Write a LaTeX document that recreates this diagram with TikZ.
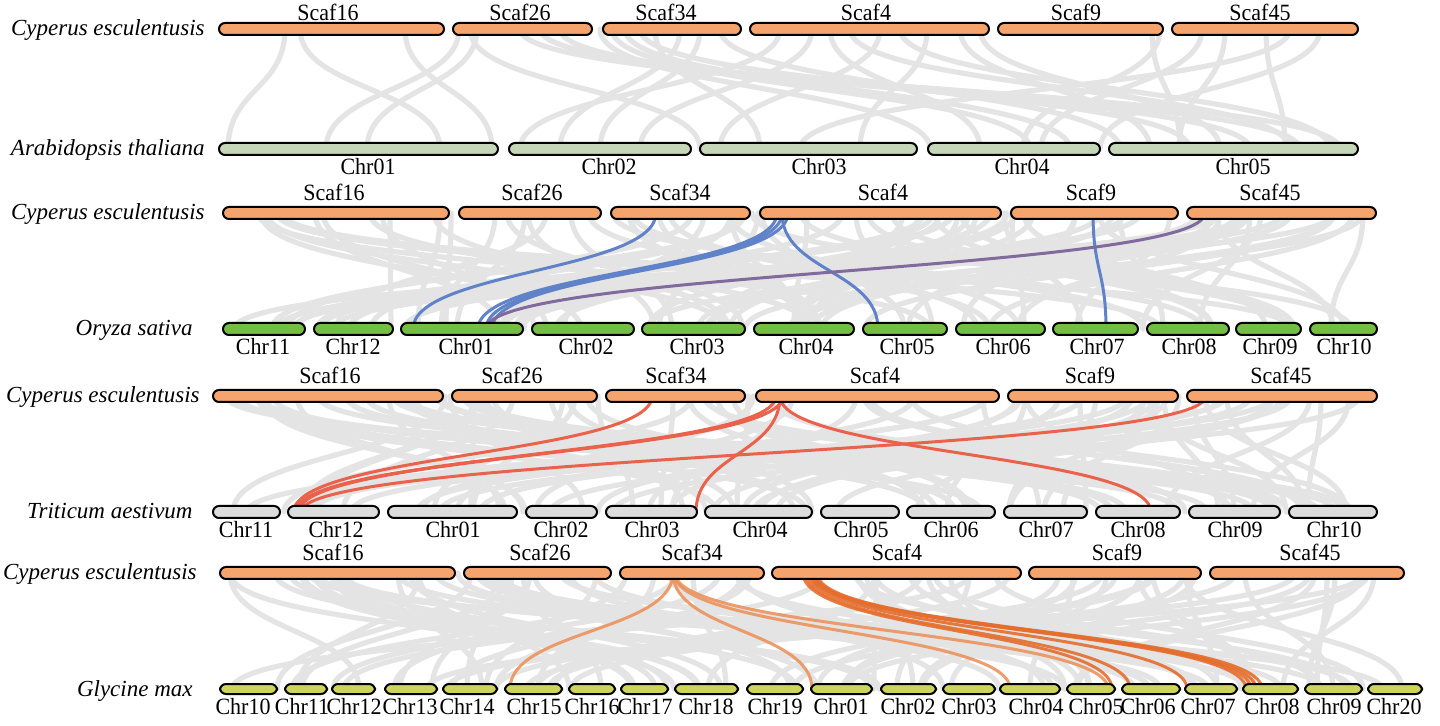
\documentclass[tikz,border=0pt]{standalone}
\usepackage{fontspec}
\setmainfont{Liberation Serif}
\definecolor{cyp}{RGB}{244,164,108}
\definecolor{ath}{RGB}{197,214,185}
\definecolor{osa}{RGB}{118,190,67}
\definecolor{tae}{RGB}{220,220,220}
\definecolor{gma}{RGB}{205,212,92}
\definecolor{synt}{RGB}{228,228,228}
\definecolor{linkblue}{RGB}{96,130,200}
\definecolor{linkpurple}{RGB}{128,106,158}
\definecolor{linkred}{RGB}{234,98,76}
\definecolor{linkorange}{RGB}{229,110,46}
\definecolor{linklight}{RGB}{236,146,92}
\newcommand{\tallt}[1]{\scalebox{1}[1.06]{#1}}
\tikzset{
  chrbar/.style={draw=black, line width=1pt, rounded corners=3pt},
  chrlab/.style={font=\fontsize{11}{13}\selectfont, anchor=base, inner sep=0pt},
  splab/.style={font=\fontsize{11.5}{13}\selectfont\itshape, anchor=base east, inner sep=0pt},
  synline/.style={synt, line width=2.6pt, line cap=round},
  hiline/.style={line width=1.5pt, line cap=round},
}
\begin{document}
\begin{tikzpicture}[x=0.5pt,y=-0.5pt,line join=round]
\useasboundingbox (0,0) rectangle (1440,726);
% gray synteny links
\foreach \xt/\xb in {285/228,300/440,405/492,459/326,477/367,470/700,520/1300,540/1340,560/1250,600/930,612/1030,625/1070,640/1190,655/760,680/560,700/600,720/1120,780/520,812/640,830/980,850/1290,880/720,900/1330,927/860,960/1150,980/1220,1152/1180,1160/1023,1202/1041,1225/1179,1266/1285,1290/800,1320/1100}{
  \draw[synline] (\xt,29) .. controls +(0,60) and +(0,-60) .. (\xb,149);
}
\pgfmathsetseed{31}
\foreach \i in {1,...,90}{
  \pgfmathsetmacro\xt{random(228,1370)}
  \pgfmathsetmacro\xb{random(228,1372)}
  \draw[synline] (\xt,213) .. controls +(0,58) and +(0,-58) .. (\xb,329);
}
\foreach \i in {1,...,90}{
  \pgfmathsetmacro\xt{random(218,1372)}
  \pgfmathsetmacro\xb{random(218,1372)}
  \draw[synline] (\xt,396) .. controls +(0,58) and +(0,-58) .. (\xb,512);
}
\foreach \i in {1,...,90}{
  \pgfmathsetmacro\xt{random(225,1398)}
  \pgfmathsetmacro\xb{random(226,1416)}
  \draw[synline] (\xt,573) .. controls +(0,58) and +(0,-58) .. (\xb,689);
}
% highlighted links
\foreach \xt/\xb/\c [count=\i] in {656/413/linkblue,777/478/linkblue,782/486/linkblue,788/492/linkblue,782/878/linkblue,1093/1106/linkblue,1205/486/linkpurple}{
  \coordinate (os\i) at (\xt,213);
  \coordinate (ob\i) at (\xb,329);
  \draw[hiline, \c] (os\i) .. controls +(0,58) and +(0,-58) .. (ob\i);
}
\foreach \xt/\xb [count=\i] in {652/294,776/296,783/299,1206/301,780/696,780/1151}{
  \coordinate (ts\i) at (\xt,396);
  \coordinate (tb\i) at (\xb,512);
  \draw[hiline, linkred] (ts\i) .. controls +(0,58) and +(0,-58) .. (tb\i);
}
\foreach \xt/\xb/\c [count=\i] in {673/510/linklight,673/812/linklight,674/1010/linklight,675/1108/linklight,803/1112/linkorange,806/1130/linkorange,809/1187/linkorange,811/1246/linkorange,813/1251/linkorange,815/1256/linkorange,817/1262/linkorange}{
  \coordinate (gs\i) at (\xt,573);
  \coordinate (gb\i) at (\xb,689);
  \draw[hiline, \c, opacity=0.9] (gs\i) .. controls +(0,58) and +(0,-58) .. (gb\i);
}
% chromosomes
\foreach \n/\a/\b/\l in {Scaf16/219/444/328,Scaf26/453/592/520,Scaf34/603/741/666,Scaf4/750/989/866,Scaf9/998/1163/1076,Scaf45/1172/1358/1260}{
  \draw[chrbar, fill=cyp] (\a,23) rectangle (\b,35);
  \node[chrlab] (a\n) at (\l,21) {\tallt{\n}};
}
\foreach \n/\a/\b/\l in {Chr01/219/498/368,Chr02/509/691/609,Chr03/700/917/819,Chr04/928/1100/1022,Chr05/1109/1358/1243}{
  \draw[chrbar, fill=ath] (\a,143) rectangle (\b,155);
  \node[chrlab] (b\n) at (\l,175) {\tallt{\n}};
}
\foreach \n/\a/\b/\l in {Scaf16/223/449/334,Scaf26/459/601/532,Scaf34/611/750/680,Scaf4/760/1001/883,Scaf9/1011/1178/1091,Scaf45/1187/1376/1270}{
  \draw[chrbar, fill=cyp] (\a,207) rectangle (\b,219);
  \node[chrlab] (c\n) at (\l,201) {\tallt{\n}};
}
\foreach \n/\a/\b/\l in {Chr11/223/305/263,Chr12/314/393/353,Chr01/401/523/466,Chr02/532/634/586,Chr03/642/745/697,Chr04/754/854/806,Chr05/863/947/907,Chr06/956/1045/1003,Chr07/1053/1138/1097,Chr08/1147/1229/1189,Chr09/1236/1301/1270,Chr10/1310/1377/1344}{
  \draw[chrbar, fill=osa] (\a,323) rectangle (\b,335);
  \node[chrlab] (d\n) at (\l,355) {\tallt{\n}};
}
\foreach \n/\a/\b/\l in {Scaf16/213/443/330,Scaf26/452/597/512,Scaf34/606/745/676,Scaf4/756/999/875,Scaf9/1008/1178/1090,Scaf45/1187/1377/1281}{
  \draw[chrbar, fill=cyp] (\a,390) rectangle (\b,402);
  \node[chrlab] (e\n) at (\l,384) {\tallt{\n}};
}
\foreach \n/\a/\b/\l in {Chr11/213/280/246,Chr12/288/379/336,Chr01/388/517/453,Chr02/526/597/561,Chr03/606/697/652,Chr04/705/812/760,Chr05/821/899/861,Chr06/907/995/951,Chr07/1004/1087/1046,Chr08/1096/1180/1138,Chr09/1189/1280/1235,Chr10/1289/1377/1334}{
  \draw[chrbar, fill=tae] (\a,506) rectangle (\b,518);
  \node[chrlab] (f\n) at (\l,538) {\tallt{\n}};
}
\foreach \n/\a/\b/\l in {Scaf16/220/455/333,Scaf26/464/611/540,Scaf34/620/764/692,Scaf4/772/1021/897,Scaf9/1029/1201/1117,Scaf45/1210/1404/1310}{
  \draw[chrbar, fill=cyp] (\a,567) rectangle (\b,579);
  \node[chrlab] (g\n) at (\l,561) {\tallt{\n}};
}
\foreach \n/\a/\b/\l in {Chr10/220/277/243,Chr11/285/327/302,Chr12/332/375/354,Chr13/385/437/410,Chr14/443/497/467,Chr15/505/562/534,Chr16/569/615/592,Chr17/621/668/645,Chr18/675/738/706,Chr19/747/803/775,Chr01/811/872/841,Chr02/881/936/908,Chr03/943/995/969,Chr04/1000/1060/1036,Chr05/1067/1115/1096,Chr06/1122/1180/1148,Chr07/1185/1237/1208,Chr08/1243/1298/1272,Chr09/1305/1362/1334,Chr20/1368/1422/1394}{
  \draw[chrbar, fill=gma] (\a,684) rectangle (\b,694);
  \node[chrlab] (h\n) at (\l,714) {\tallt{\n}};
}
% species
\node[splab] (sp1) at (205,36) {Cyperus esculentusis};
\node[splab] (sp2) at (205,156) {Arabidopsis thaliana};
\node[splab] (sp3) at (205,220) {Cyperus esculentusis};
\node[splab] (sp4) at (193,336) {Oryza sativa};
\node[splab] (sp5) at (200,403) {Cyperus esculentusis};
\node[splab] (sp6) at (193,519) {Triticum aestivum};
\node[splab] (sp7) at (197,580) {Cyperus esculentusis};
\node[splab] (sp8) at (193,696) {Glycine max};
\end{tikzpicture}
\end{document}
